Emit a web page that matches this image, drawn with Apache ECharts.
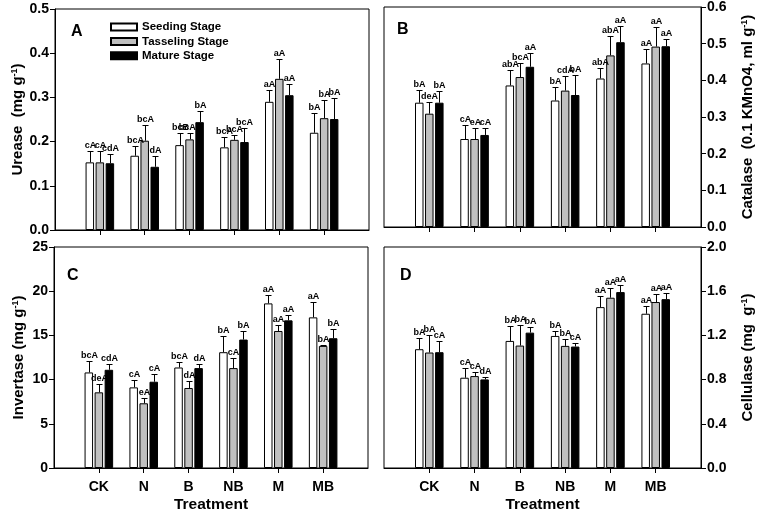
<!DOCTYPE html>
<html>
<head>
<meta charset="utf-8">
<script src="https://cdn.jsdelivr.net/npm/echarts@6/dist/echarts.min.js"></script>
<style>
html, body { margin: 0; padding: 0; background: #fff; }
#chart { width: 758px; height: 514px; }
</style>
</head>
<body>
<div id="chart"></div>
<script>
const treatments = ['CK', 'N', 'B', 'NB', 'M', 'MB'];
const stages = ['Seeding Stage', 'Tasseling Stage', 'Mature Stage'];

// rows: seeding, tasseling, mature
const ureaseMean = [
	[0.153, 0.168, 0.192, 0.187, 0.290, 0.220],
	[0.153, 0.202, 0.205, 0.204, 0.342, 0.253],
	[0.151, 0.143, 0.244, 0.199, 0.305, 0.251]
];
const ureaseSE = [
	[0.026, 0.022, 0.028, 0.023, 0.026, 0.045],
	[0.026, 0.036, 0.014, 0.010, 0.046, 0.041],
	[0.020, 0.025, 0.026, 0.031, 0.026, 0.048]
];
const ureaseSig = [
	['cA', 'bcA', 'bcB', 'bcA', 'aA', 'bA'],
	['cA', 'bcA', 'bcAB', 'bcA', 'aA', 'bA'],
	['cdA', 'dA', 'bA', 'bcA', 'aA', 'bA']
];

const catalaseMean = [
	[0.339, 0.240, 0.386, 0.345, 0.405, 0.446],
	[0.309, 0.240, 0.409, 0.372, 0.468, 0.492],
	[0.339, 0.251, 0.437, 0.360, 0.504, 0.493]
];
const catalaseSE = [
	[0.034, 0.038, 0.041, 0.037, 0.029, 0.040],
	[0.032, 0.029, 0.037, 0.039, 0.054, 0.054],
	[0.031, 0.020, 0.038, 0.054, 0.043, 0.020]
];
const catalaseSig = [
	['bA', 'cA', 'abA', 'bA', 'abA', 'aA'],
	['deA', 'eA', 'bcA', 'cdA', 'abA', 'aA'],
	['bA', 'cA', 'aA', 'bA', 'aA', 'aA']
];

const invertaseMean = [
	[10.81, 9.12, 11.37, 13.10, 18.62, 17.04],
	[8.56, 7.32, 9.05, 11.30, 15.50, 13.81],
	[11.11, 9.76, 11.30, 14.53, 16.70, 14.68]
];
const invertaseSE = [
	[1.28, 0.83, 0.57, 1.88, 0.97, 1.77],
	[0.90, 0.56, 0.82, 1.09, 0.68, 0.05],
	[0.68, 0.86, 0.45, 1.01, 0.57, 1.09]
];
const invertaseSig = [
	['bcA', 'cA', 'bcA', 'bA', 'aA', 'aA'],
	['deA', 'eA', 'dA', 'cA', 'aA', 'bA'],
	['cdA', 'cA', 'dA', 'bA', 'aA', 'bA']
];

const cellulaseMean = [
	[1.075, 0.817, 1.150, 1.195, 1.456, 1.396],
	[1.045, 0.832, 1.108, 1.105, 1.541, 1.502],
	[1.048, 0.802, 1.225, 1.099, 1.592, 1.528]
];
const cellulaseSE = [
	[0.102, 0.084, 0.135, 0.045, 0.100, 0.069],
	[0.156, 0.033, 0.189, 0.063, 0.087, 0.072],
	[0.105, 0.021, 0.048, 0.036, 0.066, 0.058]
];
const cellulaseSig = [
	['bA', 'cA', 'bA', 'bA', 'aA', 'aA'],
	['bA', 'cA', 'bA', 'bA', 'aA', 'aA'],
	['cA', 'dA', 'bA', 'cA', 'aA', 'aA']
];

const font = '"Liberation Sans", Arial, sans-serif';
const fills = ['#ffffff', '#c0c0c0', '#000000'];
const barW = 8.5;
const step = barW * 1.18;
const axisCats = [''].concat(treatments, ['']);
const inner = (i) => i > 0 && i < axisCats.length - 1;

const panels = [
	{ mean: ureaseMean, se: ureaseSE, sig: ureaseSig, letter: 'A', lx: 71, ly: 33,
		box: { left: 55, top: 9, width: 314, height: 221 }, side: 'left', max: 0.5, interval: 0.1, digits: 1,
		name: '{t|Urease  (mg g}{s|-1}{t|)}', cats: false },
	{ mean: catalaseMean, se: catalaseSE, sig: catalaseSig, letter: 'B', lx: 397, ly: 31,
		box: { left: 384, top: 4, width: 317, height: 223 }, side: 'right', max: 0.6, interval: 0.1, digits: 1,
		name: '{t|Catalase  (0.1 KMnO4, ml g}{s|-1}{t|)}', cats: false },
	{ mean: invertaseMean, se: invertaseSE, sig: invertaseSig, letter: 'C', lx: 67, ly: 277,
		box: { left: 54, top: 247, width: 314, height: 222 }, side: 'left', max: 25, interval: 5, digits: 0,
		name: '{t|Invertase (mg g}{s|-1}{t|)}', cats: true },
	{ mean: cellulaseMean, se: cellulaseSE, sig: cellulaseSig, letter: 'D', lx: 400, ly: 277,
		box: { left: 384, top: 247, width: 317, height: 222 }, side: 'right', max: 2.0, interval: 0.4, digits: 1,
		name: '{t|Cellulase (mg  g}{s|-1}{t|)}', cats: true }
];

const grid = [], xAxis = [], yAxis = [], series = [], graphic = [];

panels.forEach((p, gi) => {
	grid.push(Object.assign({ show: true, borderColor: '#000', borderWidth: 1, backgroundColor: 'transparent' }, p.box));
	xAxis.push({
		type: 'category', gridIndex: gi, data: axisCats, boundaryGap: false,
		axisLine: { lineStyle: { color: '#000', width: 1 } },
		axisTick: { show: true, inside: false, length: 5, interval: inner, lineStyle: { color: '#000' } },
		axisLabel: { show: p.cats, interval: inner, margin: 12, color: '#000', fontFamily: font, fontWeight: 'bold', fontSize: 14 },
		name: p.cats ? 'Treatment' : '', nameLocation: 'middle', nameGap: 29,
		nameTextStyle: { color: '#000', fontFamily: font, fontWeight: 'bold', fontSize: 15.5 }
	});
	yAxis.push({
		type: 'value', gridIndex: gi, position: p.side, min: 0, max: p.max, interval: p.interval,
		splitLine: { show: false },
		axisLine: { show: true, lineStyle: { color: '#000', width: 1 } },
		axisTick: { show: true, inside: false, length: 5, lineStyle: { color: '#000' } },
		axisLabel: { margin: 6, color: '#000', fontFamily: font, fontWeight: 'bold', fontSize: 14,
			formatter: (v) => v.toFixed(p.digits) },
		name: p.name, nameLocation: 'middle', nameRotate: 90, nameGap: p.side === 'left' ? 27 : 39,
		nameTextStyle: {
			rich: {
				t: { fontFamily: font, fontWeight: 'bold', fontSize: 15, color: '#000', lineHeight: 16 },
				s: { fontFamily: font, fontWeight: 'bold', fontSize: 9, color: '#000', verticalAlign: 'top', lineHeight: 16 }
			}
		}
	});

	p.mean.forEach((row, s) => {
		series.push({
			type: 'bar', name: stages[s], xAxisIndex: gi, yAxisIndex: gi,
			data: ['-'].concat(row, ['-']),
			barWidth: barW, barGap: '18%', silent: true,
			itemStyle: { color: fills[s], borderColor: '#000', borderWidth: 1 }
		});
	});

	// error bars + significance letters
	const errData = [], sigs = [];
	p.mean.forEach((row, s) => row.forEach((m, c) => {
		errData.push([c + 1, s, m, m + p.se[s][c]]);
		sigs.push(p.sig[s][c]);
	}));
	series.push({
		type: 'custom', xAxisIndex: gi, yAxisIndex: gi, z: 5, silent: true,
		encode: { x: 0, y: 3 },
		data: errData,
		renderItem(params, api) {
			const off = (api.value(1) - 1) * step;
			const b = api.coord([api.value(0), api.value(2)]);
			const t = api.coord([api.value(0), api.value(3)]);
			const x = Math.round(b[0] + off) + 0.5;
			const ty = Math.round(t[1]) + 0.5;
			return {
				type: 'group',
				children: [
					{ type: 'line', shape: { x1: x, y1: b[1], x2: x, y2: ty }, style: { stroke: '#000', lineWidth: 1 } },
					{ type: 'line', shape: { x1: x - 3, y1: ty, x2: x + 3, y2: ty }, style: { stroke: '#000', lineWidth: 1 } },
					{ type: 'text', x: x, y: ty - 1,
						style: { text: sigs[params.dataIndex], fill: '#000', font: 'bold 9px ' + font, align: 'center', verticalAlign: 'bottom' } }
				]
			};
		}
	});

	graphic.push({ type: 'text', left: p.lx, top: p.ly - 9,
		style: { text: p.letter, fill: '#000', font: 'bold 16px ' + font } });
});

const myChart = echarts.init(document.getElementById('chart'), null, { renderer: 'canvas' });
myChart.setOption({
	animation: false,
	backgroundColor: '#fff',
	legend: {
		data: stages, orient: 'vertical', left: 110, top: 21, padding: 0,
		itemWidth: 26, itemHeight: 7, itemGap: 2.4, icon: 'rect', selectedMode: false,
		textStyle: { color: '#000', fontFamily: font, fontWeight: 'bold', fontSize: 11.5, lineHeight: 12 }
	},
	grid, xAxis, yAxis, series, graphic
});
</script>
</body>
</html>
